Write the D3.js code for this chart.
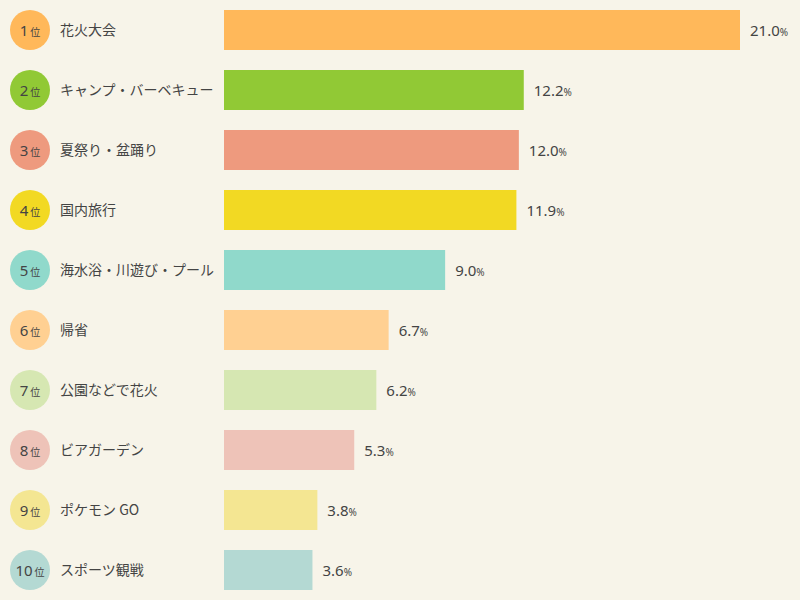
<!DOCTYPE html>
<html>
<head>
<meta charset="utf-8">
<script src="https://cdn.jsdelivr.net/npm/d3@7"></script>
<style>
  html, body { margin: 0; padding: 0; background: #f7f4e9; }
  svg { display: block; font-family: "Noto Sans CJK JP", "DejaVu Sans", sans-serif; }
</style>
</head>
<body>
<div id="chart_area"></div>
<script>
var width = 800
var height = 600

// data
var ranks = [1, 2, 3, 4, 5, 6, 7, 8, 9, 10]
var categories = ["花火大会", "キャンプ・バーベキュー", "夏祭り・盆踊り", "国内旅行", "海水浴・川遊び・プール",
  "帰省", "公園などで花火", "ビアガーデン", "ポケモン GO", "スポーツ観戦"]
var values = [21.0, 12.2, 12.0, 11.9, 9.0, 6.7, 6.2, 5.3, 3.8, 3.6]
var colors = ["#ffb85a", "#91c935", "#ee9a7e", "#f2d923", "#90d9cb",
  "#ffd092", "#d6e7b2", "#eec3b8", "#f4e692", "#b4d9d3"]

var barLeft = 224
var rowH = 60
var barH = 40

var svg = d3.select("#chart_area")
  .append("svg")
  .attr("width", width)
  .attr("height", height)

svg.append("rect").attr("width", width).attr("height", height).attr("fill", "#f7f4e9")

var x = d3.scaleLinear().domain([0, 21.0]).range([barLeft, 740])
var y = d3.scaleBand().domain(d3.range(categories.length)).range([0, rowH * categories.length])

var rows = svg.selectAll("g.row")
  .data(categories)
  .enter()
  .append("g")
  .attr("class", "row")
  .attr("transform", (d, i) => "translate(0," + (y(i) + rowH / 2) + ")")

// rank badge
rows.append("circle")
  .attr("cx", 30)
  .attr("cy", 0)
  .attr("r", 20)
  .attr("fill", (d, i) => colors[i])

var badge = rows.append("text")
  .attr("x", 30)
  .attr("y", 0)
  .attr("dy", "0.38em")
  .attr("text-anchor", "middle")
  .attr("fill", "#444")

badge.append("tspan")
  .style("font-family", "'Noto Sans', sans-serif")
  .style("font-size", "15px")
  .text((d, i) => ranks[i])
badge.append("tspan")
  .attr("dx", 2)
  .style("font-size", "10px")
  .text("位")

// category name
rows.append("text")
  .attr("x", 60)
  .attr("y", 0)
  .attr("dy", "0.36em")
  .attr("fill", "#444")
  .style("font-size", "14px")
  .text(d => d)

// bars
rows.append("rect")
  .attr("x", barLeft)
  .attr("y", -barH / 2)
  .attr("width", (d, i) => x(values[i]) - barLeft)
  .attr("height", barH)
  .attr("fill", (d, i) => colors[i])

// value labels
var val = rows.append("text")
  .attr("x", (d, i) => x(values[i]) + 10)
  .attr("y", 0)
  .attr("dy", "0.4em")
  .attr("fill", "#444")
  .style("font-family", "'Noto Sans', sans-serif")

val.append("tspan")
  .style("font-size", "15px")
  .text((d, i) => values[i].toFixed(1))
val.append("tspan")
  .style("font-size", "10px")
  .text("%")
</script>
</body>
</html>
